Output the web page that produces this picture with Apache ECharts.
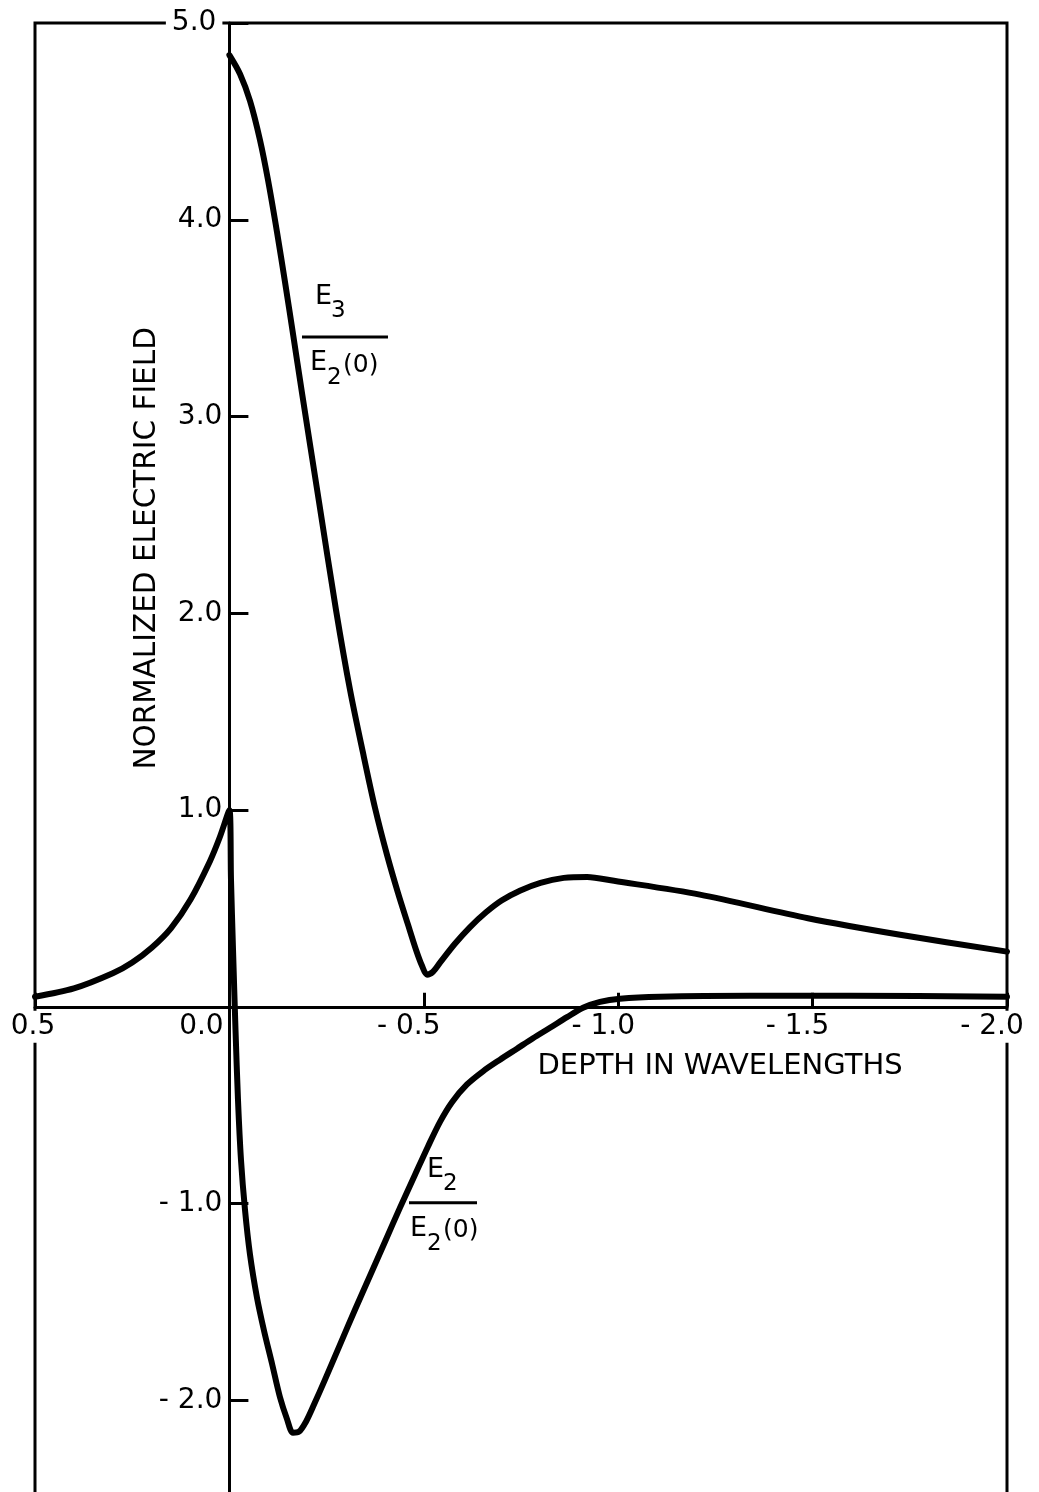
<!DOCTYPE html>
<html><head><meta charset="utf-8">
<script src="https://cdn.jsdelivr.net/npm/echarts@6/dist/echarts.min.js"></script>
<style>html,body{margin:0;padding:0;background:#fff}#c{width:1039px;height:1492px}</style>
</head><body><div id="c"></div>
<script>
const FONT = '"DejaVu Sans", "Liberation Sans", sans-serif';

// Axis ranges and tick labels
const xMin = -2.0, xMax = 0.5, xStep = 0.5;
const yMin = -3, yMax = 5, yStep = 1;
const xTickValues = [0.5, 0.0, -0.5, -1.0, -1.5, -2.0];
const xTickLabels = ['0.5', '0.0', '- 0.5', '- 1.0', '- 1.5', '- 2.0'];
const yTickValues = [5, 4, 3, 2, 1, -1, -2];
const yTickLabels = ['5.0', '4.0', '3.0', '2.0', '1.0', '- 1.0', '- 2.0'];

// E2 / E2(0): depth (wavelengths) and normalized field
const e2Depth = [0.5, 0.4, 0.3, 0.25, 0.2, 0.15, 0.10, 0.05, 0.025, 0.0,
  -0.0041, -0.0093, -0.0157, -0.0221, -0.0298, -0.0401, -0.053, -0.071, -0.089, -0.1096,
  -0.1301, -0.1481, -0.1636, -0.179, -0.197, -0.2176, -0.2459, -0.2845, -0.323, -0.3616,
  -0.4002, -0.4388, -0.4774, -0.5108, -0.5417, -0.5725, -0.6111, -0.6523, -0.696, -0.7397,
  -0.7809, -0.8246, -0.8683, -0.9095, -0.9532, -1.0046, -1.1075, -1.339, -1.596, -2.0];
const e2Field = [0.051, 0.093, 0.17, 0.225, 0.30, 0.40, 0.545, 0.74, 0.86, 1.0,
  0.645, 0.29, -0.117, -0.473, -0.778, -1.032, -1.26, -1.479, -1.646, -1.814,
  -1.985, -2.095, -2.165, -2.16, -2.109, -2.022, -1.895, -1.717, -1.54, -1.367,
  -1.194, -1.021, -0.854, -0.71, -0.585, -0.485, -0.395, -0.328, -0.269, -0.213,
  -0.16, -0.107, -0.053, -0.005, 0.025, 0.041, 0.051, 0.056, 0.056, 0.051];

// E3 / E2(0)
const e3Depth = [0.0, -0.0273, -0.053, -0.0787, -0.0993, -0.1224, -0.143, -0.1636, -0.1867, -0.2305,
  -0.2742, -0.3102, -0.3436, -0.3745, -0.4054, -0.4336, -0.4594, -0.4799, -0.4954, -0.5082,
  -0.5237, -0.5417, -0.58, -0.619, -0.66, -0.70, -0.747, -0.80, -0.86, -0.92,
  -0.989, -1.210, -1.488, -1.725, -2.0];
const e3Field = [4.837, 4.741, 4.604, 4.405, 4.202, 3.938, 3.684, 3.42, 3.12, 2.566,
  2.017, 1.611, 1.291, 1.011, 0.772, 0.579, 0.417, 0.29, 0.208, 0.163,
  0.178, 0.224, 0.32, 0.405, 0.48, 0.54, 0.59, 0.63, 0.655, 0.66,
  0.64, 0.57, 0.45, 0.366, 0.28];

const zip = (a, b) => a.map((v, i) => [v, b[i]]);
const near = (a, b) => Math.abs(a - b) < 1e-6;

// layout (pixels)
const W = 1039, H = 1492;
const gL = 35, gR = 32, gT = 23, gB = -105;
const plotW = W - gL - gR, plotH = H - gT - gB;
// grid whose bottom edge is the y=0 line (carries the visible x axis)
const xAxisGridH = plotH * (yMax - 0) / (yMax - yMin);
// grid whose left edge is the x=0 line (carries the visible y axis)
const yAxisGridL = gL + plotW * (xMax - 0) / (xMax - xMin);

const chart = echarts.init(document.getElementById('c'));
const labelFont = {fontFamily: FONT, fontSize: 28, color: '#000', lineHeight: 30};
const blackLine = {color: '#000', width: 3};

chart.setOption({
  animation: false,
  backgroundColor: '#fff',
  grid: [
    {left: gL, right: gR, top: gT, bottom: gB, containLabel: false, outerBoundsMode: 'none',
     show: true, borderColor: '#000', borderWidth: 3, backgroundColor: 'transparent', z: 0},
    {left: gL, right: gR, top: gT, height: xAxisGridH, containLabel: false, outerBoundsMode: 'none', show: false},
    {left: yAxisGridL, right: gR, top: gT, bottom: gB, containLabel: false, outerBoundsMode: 'none', show: false}
  ],
  xAxis: [
    {gridIndex: 0, type: 'value', min: xMin, max: xMax, interval: xStep, inverse: true, show: false},
    {
      gridIndex: 1, type: 'value', min: xMin, max: xMax, interval: xStep, inverse: true, position: 'bottom', z: 3,
      axisLine: {onZero: false, lineStyle: blackLine},
      axisTick: {inside: true, length: 14, lineStyle: blackLine},
      splitLine: {show: false},
      axisLabel: {
        showMinLabel: true, showMaxLabel: true, margin: 5, ...labelFont,
        formatter: v => {
          const i = xTickValues.findIndex(t => near(t, v));
          if (i < 0) return '';
          const t = xTickLabels[i];
          if (near(v, 0.5)) return '{w|' + t + '}';
          if (near(v, 0)) return '{z|' + t + '}';
          if (near(v, -2)) return '{wn|' + t + '}';
          return '{n|' + t + '}';
        },
        rich: {
          w: {...labelFont, backgroundColor: '#fff', padding: [2, 6, 2, 2]},
          z: {...labelFont, padding: [0, 56, 0, 0]},
          n: {...labelFont, padding: [0, 30, 0, 0]},
          wn: {...labelFont, backgroundColor: '#fff', padding: [2, 30, 2, 0]}
        }
      }
    },
    {gridIndex: 2, type: 'value', min: 0, max: xMax, inverse: true, show: false}
  ],
  yAxis: [
    {gridIndex: 0, type: 'value', min: yMin, max: yMax, interval: yStep, show: false},
    {gridIndex: 1, type: 'value', min: 0, max: yMax, show: false},
    {
      gridIndex: 2, type: 'value', min: yMin, max: yMax, interval: yStep, position: 'left', z: 3,
      axisLine: {onZero: false, lineStyle: blackLine},
      axisTick: {inside: true, length: 19, lineStyle: blackLine},
      splitLine: {show: false},
      axisLabel: {
        showMinLabel: true, showMaxLabel: true, margin: 7, ...labelFont,
        formatter: v => {
          const i = yTickValues.findIndex(t => near(t, v));
          if (i < 0) return '';
          return near(v, 5) ? '{w|' + yTickLabels[i] + '}' : yTickLabels[i];
        },
        rich: {w: {...labelFont, backgroundColor: '#fff', padding: [2, 6, 2, 6]}}
      }
    }
  ],
  series: [
    {name: 'E2/E2(0)', type: 'line', xAxisIndex: 0, yAxisIndex: 0, data: zip(e2Depth, e2Field),
     showSymbol: false, symbol: 'none', smooth: 0.3, z: 10, clip: false,
     lineStyle: {color: '#000', width: 6, cap: 'round', join: 'round'}},
    {name: 'E3/E2(0)', type: 'line', xAxisIndex: 0, yAxisIndex: 0, data: zip(e3Depth, e3Field),
     showSymbol: false, symbol: 'none', smooth: 0.3, z: 10, clip: false,
     lineStyle: {color: '#000', width: 6, cap: 'round', join: 'round'}}
  ]
});

const px = (x, y) => chart.convertToPixel({gridIndex: 0}, [x, y]);
const txt = (text, x, y, size, extra) => ({type: 'text', x, y, z: 20,
  style: Object.assign({text, fontFamily: FONT, fontSize: size, fill: '#000', align: 'left', verticalAlign: 'middle'}, extra || {})});

function fraction(anchor, barW, numSub, numDx, denDx, numDy) {
  const [ax, ay] = anchor;
  const bl = ax - barW / 2;
  return [
    txt('E', bl + numDx, ay + numDy, 27),
    txt(numSub, bl + numDx + 16, ay + numDy + 14, 23),
    {type: 'rect', z: 20, shape: {x: bl, y: ay - 1.5, width: barW, height: 3}, style: {fill: '#000'}},
    txt('E', bl + denDx, ay + 26, 27),
    txt('2', bl + denDx + 17, ay + 41, 23),
    txt('(0)', bl + denDx + 33, ay + 28, 25)
  ];
}

const origin = px(0, 0);
const yNameC = px(0, 2.33);
const xNameC = px(-1.262, 0);
const graphics = [
  txt('NORMALIZED ELECTRIC FIELD', origin[0] - 82, yNameC[1], 29.5, {align: 'center'}),
  txt('DEPTH IN WAVELENGTHS', xNameC[0], origin[1] + 60, 29, {align: 'center'})
];
graphics[0].rotation = Math.PI / 2;
graphics.push(...fraction(px(-0.2973, 3.404), 86, '3', 13, 8, -40));
graphics.push(...fraction(px(-0.5494, -0.996), 68, '2', 18, 1, -33));
chart.setOption({graphic: graphics});
</script>
</body></html>
